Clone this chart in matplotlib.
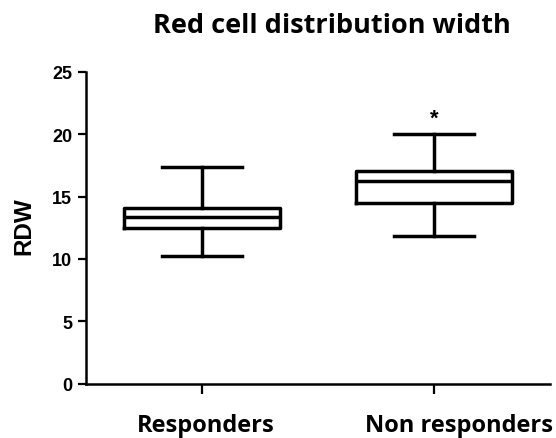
import matplotlib
matplotlib.use("Agg")
import matplotlib.pyplot as plt
from matplotlib.transforms import blended_transform_factory

categories = ["Responders", "Non responders"]
whisker_low = [10.2, 11.85]
q1 = [12.45, 14.45]
median = [13.35, 16.25]
q3 = [14.05, 17.05]
whisker_high = [17.4, 20.05]
star_y = 21.3
yticks = [0, 5, 10, 15, 20, 25]

fig = plt.figure(figsize=(5.56, 4.39), dpi=100)
ax = fig.add_axes([0.155, 0.124, 0.834, 0.710])

stats = []
for i, c in enumerate(categories):
    stats.append(dict(label=c, whislo=whisker_low[i], q1=q1[i], med=median[i],
                      q3=q3[i], whishi=whisker_high[i], fliers=[]))

lw = 2.5
ax.bxp(stats, positions=[0, 1], widths=0.675, capwidths=0.345, showfliers=False,
       boxprops=dict(color="black", linewidth=lw),
       medianprops=dict(color="black", linewidth=lw),
       whiskerprops=dict(color="black", linewidth=lw),
       capprops=dict(color="black", linewidth=lw))

ax.text(1, star_y, "*", ha="center", va="center", fontsize=16, fontweight="bold",
        family="Liberation Sans")

ax.set_xlim(-0.5, 1.5)
ax.set_ylim(0, 25)
ax.set_yticks(yticks)
ax.set_yticklabels([str(t) for t in yticks], fontsize=13, fontweight="bold",
                   family="Liberation Sans")
ax.set_xticks([0, 1])
ax.set_xticklabels(["", ""])
ax.tick_params(axis="y", length=6, width=1.6, pad=4)
ax.tick_params(axis="x", length=7, width=1.6)
for s in ["top", "right"]:
    ax.spines[s].set_visible(False)
for s in ["left", "bottom"]:
    ax.spines[s].set_linewidth(1.8)

# category labels (slightly offset as in reference)
trans = blended_transform_factory(ax.transData, fig.transFigure)
label_x = [0.017, 1.108]
for xpos, c in zip(label_x, categories):
    ax.text(xpos, 0.017, c, transform=trans, ha="center", va="baseline",
            fontsize=17, fontweight="bold", family="Open Sans", clip_on=False)

ax.set_ylabel("RDW", fontsize=17.5, fontweight="bold", family="Liberation Sans",
              va="center")
ax.yaxis.set_label_coords(-0.134, 0.508)

fig.text(0.597, 0.925, "Red cell distribution width", ha="center", va="baseline",
         fontsize=19.5, fontweight="bold", family="Open Sans")

fig.savefig("out.png", dpi=100)
